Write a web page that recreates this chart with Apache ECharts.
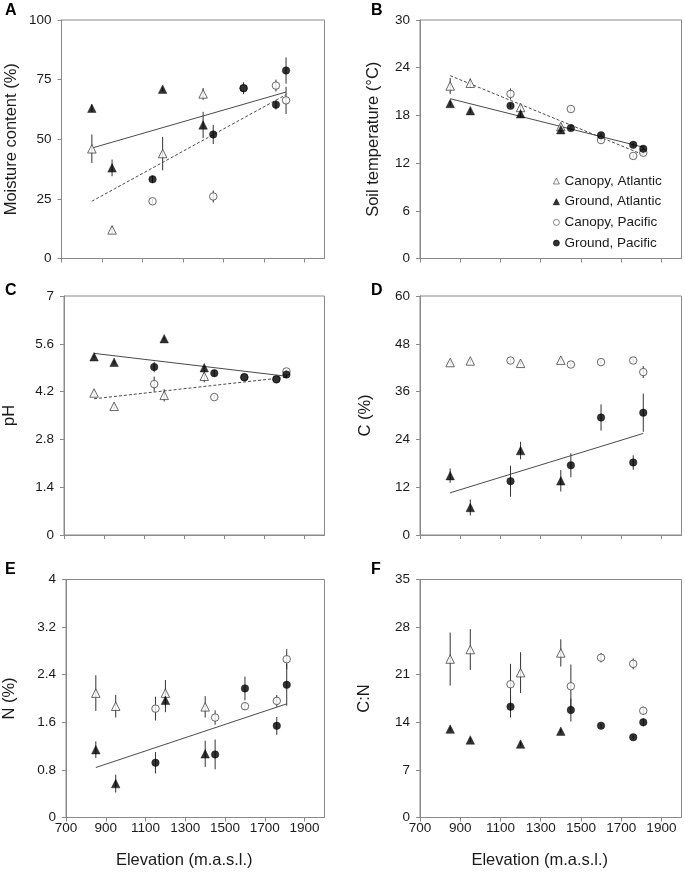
<!DOCTYPE html>
<html>
<head>
<meta charset="utf-8">
<script src="https://cdn.jsdelivr.net/npm/echarts@6/dist/echarts.min.js"></script>
<style>
html,body{margin:0;padding:0;background:#fff;}
#chart{width:685px;height:875px;}
</style>
</head>
<body>
<div id="chart"></div>
<script>
// ---- Data ----
const xTicks = [700, 900, 1100, 1300, 1500, 1700, 1900];
const elevAtl = [850, 950, 1200, 1400];
const elevPac = [1150, 1450, 1600, 1760, 1810];
const seriesNames = ['Canopy, Atlantic', 'Ground, Atlantic', 'Canopy, Pacific', 'Ground, Pacific'];

// A: Moisture content (%)
const moistCanAtl = [46, 12, 44, 69];
const moistCanAtlErr = [6, 1.5, 7, 2.5];
const moistGrdAtl = [63, 38, 71, 56];
const moistGrdAtlErr = [1.5, 3.5, 1, 5.5];
const moistCanPac = [24, 26, 71.4, 72.5, 66.3];
const moistCanPacErr = [1, 2.5, 0, 2.5, 5.7];
const moistGrdPac = [33.2, 52, 71.4, 64.5, 78.8];
const moistGrdPacErr = [1.5, 4, 2.5, 2, 5.5];
const moistFitSolid = [[850, 46.3], [1810, 69.8]];
const moistFitDashed = [[850, 24.0], [1810, 68.7]];

// B: Soil temperature (°C)
const tempCanAtl = [21.7, 22.05, 19.0, 16.6];
const tempCanAtlErr = [1, 0.6, 0.4, 0.4];
const tempGrdAtl = [19.5, 18.6, 18.2, 16.2];
const tempGrdAtlErr = [0.3, 0.3, 0.5, 0.4];
const tempCanPac = [20.7, 18.8, 14.9, 12.9, 13.3];
const tempCanPacErr = [0.7, 0.3, 0.3, 0.3, 0.3];
const tempGrdPac = [19.2, 16.4, 15.5, 14.3, 13.8];
const tempGrdPacErr = [0.3, 0.3, 0.3, 0.3, 0.3];
const tempFitSolid = [[850, 20.1], [1810, 14.0]];
const tempFitDashed = [[850, 23.0], [1810, 13.05]];

// C: pH
const phCanAtl = [4.16, 3.77, 4.09, 4.65];
const phCanAtlErr = [0.08, 0.08, 0.18, 0.18];
const phGrdAtl = [5.22, 5.06, 5.75, 4.9];
const phGrdAtlErr = [0.05, 0.05, 0.05, 0.05];
const phCanPac = [4.42, 4.04, 4.62, 4.56, 4.79];
const phCanPacErr = [0.22, 0.06, 0.05, 0.05, 0.05];
const phGrdPac = [4.92, 4.74, 4.62, 4.56, 4.70];
const phGrdPacErr = [0.15, 0.1, 0.05, 0.05, 0.1];
const phFitSolid = [[850, 5.32], [1810, 4.65]];
const phFitDashed = [[850, 3.99], [1810, 4.62]];

// D: C (%)
const cCanAtl = [43.3, 43.7, 43.1, 43.9];
const cCanAtlErr = [0.5, 0.5, 0.5, 0.5];
const cGrdAtl = [14.9, 6.9, 21.2, 13.6];
const cGrdAtlErr = [1.8, 2, 2.2, 2.7];
const cCanPac = [43.8, 42.8, 43.4, 43.8, 40.9];
const cCanPacErr = [0.5, 0.5, 0.5, 0.5, 1.5];
const cGrdPac = [13.5, 17.5, 29.5, 18.2, 30.7];
const cGrdPacErr = [3.9, 3, 3.3, 1.8, 4.8];
const cFitSolid = [[850, 10.6], [1810, 25.5]];

// E: N (%)
const nCanAtl = [2.09, 1.87, 2.09, 1.86];
const nCanAtlErr = [0.3, 0.19, 0.22, 0.18];
const nGrdAtl = [1.14, 0.57, 1.97, 1.07];
const nGrdAtlErr = [0.14, 0.15, 0.2, 0.22];
const nCanPac = [1.83, 1.68, 1.87, 1.96, 2.66];
const nCanPacErr = [0.2, 0.12, 0.06, 0.1, 0.17];
const nGrdPac = [0.92, 1.06, 2.17, 1.54, 2.23];
const nGrdPacErr = [0.18, 0.25, 0.2, 0.15, 0.35];
const nFitSolid = [[850, 0.84], [1810, 1.91]];

// F: C:N
const cnCanAtl = [23.3, 24.7, 21.3, 24.2];
const cnCanAtlErr = [3.9, 3, 3, 2];
const cnGrdAtl = [13.0, 11.4, 10.8, 12.7];
const cnGrdAtlErr = [0.3, 0.3, 0.3, 0.3];
const cnCanPac = [19.6, 19.3, 23.5, 22.6, 15.7];
const cnCanPacErr = [3, 3.2, 0.7, 0.8, 0.6];
const cnGrdPac = [16.3, 15.8, 13.5, 11.8, 14.0];
const cnGrdPacErr = [1.6, 1.7, 0.3, 0.3, 0.6];

// ---- Layout / panel definitions ----
const FONT = 'Liberation Sans, Arial, sans-serif';
const panels = [
  {letter:'A', name:'Moisture content (%)', max:100, interval:25, nameGap:42,
   grid:{left:61.5, top:20, width:263, height:238.5}, xName:false,
   groups:[[moistCanAtl, moistCanAtlErr],[moistGrdAtl, moistGrdAtlErr],[moistCanPac, moistCanPacErr],[moistGrdPac, moistGrdPacErr]],
   fits:[[moistFitSolid,'solid'],[moistFitDashed,'dashed']]},
  {letter:'B', name:'Soil temperature (°C)', max:30, interval:6, nameGap:38,
   grid:{left:420, top:20, width:261.5, height:238.5}, xName:false,
   groups:[[tempCanAtl, tempCanAtlErr],[tempGrdAtl, tempGrdAtlErr],[tempCanPac, tempCanPacErr],[tempGrdPac, tempGrdPacErr]],
   fits:[[tempFitSolid,'solid'],[tempFitDashed,'dashed']]},
  {letter:'C', name:'pH', max:7, interval:1.4, nameGap:46,
   grid:{left:61.5, top:296, width:263, height:239}, xName:false,
   groups:[[phCanAtl, phCanAtlErr],[phGrdAtl, phGrdAtlErr],[phCanPac, phCanPacErr],[phGrdPac, phGrdPacErr]],
   fits:[[phFitSolid,'solid'],[phFitDashed,'dashed']]},
  {letter:'D', name:'C (%)', max:60, interval:12, nameGap:46,
   grid:{left:420, top:296, width:261.5, height:239}, xName:false,
   groups:[[cCanAtl, cCanAtlErr],[cGrdAtl, cGrdAtlErr],[cCanPac, cCanPacErr],[cGrdPac, cGrdPacErr]],
   fits:[[cFitSolid,'solid']]},
  {letter:'E', name:'N (%)', max:4, interval:0.8, nameGap:48,
   grid:{left:61.5, top:579.5, width:263, height:238}, xName:true,
   groups:[[nCanAtl, nCanAtlErr],[nGrdAtl, nGrdAtlErr],[nCanPac, nCanPacErr],[nGrdPac, nGrdPacErr]],
   fits:[[nFitSolid,'solid']]},
  {letter:'F', name:'C:N', max:35, interval:7, nameGap:47,
   grid:{left:420, top:579.5, width:261.5, height:238}, xName:true,
   groups:[[cnCanAtl, cnCanAtlErr],[cnGrdAtl, cnGrdAtlErr],[cnCanPac, cnCanPacErr],[cnGrdPac, cnGrdPacErr]],
   fits:[]}
];

const markerStyles = [
  {symbol:'triangle', size:8.5, itemStyle:{color:'#fff', borderColor:'#444', borderWidth:1}},
  {symbol:'triangle', size:8.5, itemStyle:{color:'#000', borderColor:'#000', borderWidth:0.5}},
  {symbol:'circle', size:7.5, itemStyle:{color:'#fff', borderColor:'#444', borderWidth:1}},
  {symbol:'circle', size:7.5, itemStyle:{color:'#000', borderColor:'#000', borderWidth:0.5}}
];

const grids = [], xAxes = [], yAxes = [], series = [], graphics = [];
const axisColor = '#8a8a8a';

panels.forEach((p, i) => {
  grids.push(Object.assign({show:true, borderColor:axisColor, borderWidth:1, backgroundColor:'transparent'}, p.grid));
  xAxes.push({
    type:'value', gridIndex:i, min:700, max:2000, interval:200,
    axisLine:{show:true, onZero:false, lineStyle:{color:axisColor, width:1}},
    axisTick:{show:true, inside:false, length:4, customValues:xTicks, lineStyle:{color:axisColor}},
    axisLabel:{show:p.xName, customValues:xTicks, margin:4, fontSize:13.5, color:'#1a1a1a', fontFamily:FONT,
      formatter:v => String(v)},
    splitLine:{show:false},
    name:p.xName ? 'Elevation (m.a.s.l.)' : '', nameLocation:'middle', nameGap:34,
    nameTextStyle:{fontSize:16.5, color:'#1a1a1a', fontFamily:FONT, padding:[0, 22, 0, 0]}
  });
  yAxes.push({
    type:'value', gridIndex:i, min:0, max:p.max, interval:p.interval,
    axisLine:{show:true, lineStyle:{color:axisColor, width:1}},
    axisTick:{show:true, inside:false, length:4, lineStyle:{color:axisColor}},
    axisLabel:{margin:10, fontSize:13.5, color:'#1a1a1a', fontFamily:FONT,
      formatter:v => String(Math.round(v*10)/10)},
    splitLine:{show:false},
    name:p.name, nameLocation:'middle', nameGap:p.nameGap, nameRotate:90,
    nameTextStyle:{fontSize:16.5, color:'#1a1a1a', fontFamily:FONT}
  });
  p.groups.forEach((g, k) => {
    const xs = (k < 2) ? elevAtl : elevPac;
    const ys = g[0], es = g[1];
    series.push({
      type:'custom', xAxisIndex:i, yAxisIndex:i, z:1, silent:true,
      data: xs.map((x, j) => [x, ys[j] - es[j], ys[j] + es[j]]),
      encode:{x:0, y:[1,2]},
      renderItem:(params, api) => {
        const a = api.coord([api.value(0), api.value(1)]);
        const b = api.coord([api.value(0), api.value(2)]);
        return {type:'line', shape:{x1:a[0], y1:a[1], x2:b[0], y2:b[1]},
                style:{stroke:'#333', lineWidth:1}};
      }
    });
  });
  p.fits.forEach(f => {
    series.push({
      type:'line', xAxisIndex:i, yAxisIndex:i, z:2, silent:true, symbol:'none',
      data:f[0],
      lineStyle:{color:'#4a4a4a', width:1, type: f[1]==='dashed' ? [3,2] : 'solid'}
    });
  });
  p.groups.forEach((g, k) => {
    const xs = (k < 2) ? elevAtl : elevPac;
    const m = markerStyles[k];
    series.push({
      type:'scatter', name:seriesNames[k], xAxisIndex:i, yAxisIndex:i, z:3,
      symbol:m.symbol, symbolSize:m.size, itemStyle:m.itemStyle,
      data: xs.map((x, j) => [x, g[0][j]])
    });
  });
  const L = p.letter;
  const lx = (i % 2 === 0) ? 5 : 371;
  const ly = [3, 3, 283, 283, 562, 562][i];
  graphics.push({type:'text', left:lx, top:ly,
    style:{text:L, font:'bold 16px ' + FONT, fill:'#000'}});
});

const chart = echarts.init(document.getElementById('chart'), null, {renderer:'canvas'});
chart.setOption({
  animation:false,
  backgroundColor:'#fff',
  grid:grids, xAxis:xAxes, yAxis:yAxes, series:series,
  graphic:graphics,
  legend:{
    data:seriesNames, orient:'vertical', left:553, top:173,
    itemWidth:6, itemHeight:6, itemGap:4.7, padding:0,
    itemStyle:{borderWidth:0.8},
    textStyle:{fontSize:13.5, color:'#1a1a1a', fontFamily:FONT, lineHeight:16},
    selectedMode:false
  }
});
</script>
</body>
</html>
